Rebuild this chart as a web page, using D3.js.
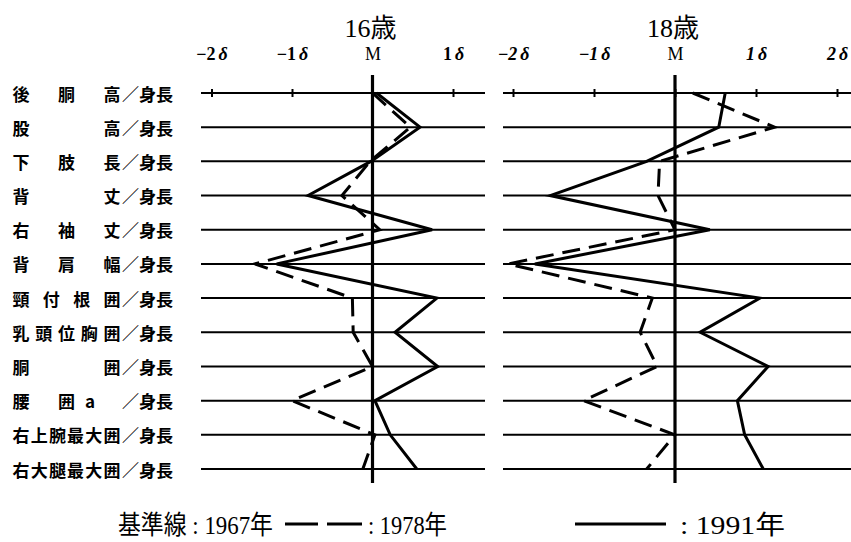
<!DOCTYPE html>
<html>
<head>
<meta charset="utf-8">
<script src="https://cdn.jsdelivr.net/npm/d3@7"></script>
<style>
  body { margin: 0; background: #fff; }
  svg { display: block; }
</style>
</head>
<body>
<div id="chart"></div>
<script>
// 体型指標の偏差（1967年基準, 単位: δ）
const measures = ["後胴高", "股高", "下肢長", "背丈", "右袖丈", "背肩幅",
                  "頸付根囲", "乳頭位胸囲", "胴囲", "腰囲a", "右上腕最大囲", "右大腿最大囲"];
const suffix = "／身長";

const ticks16 = [-2, -1, 0, 1];
const ticks18 = [-2, -1, 0, 1, 2];

const age16_1978 = [0.0, 0.47, -0.03, -0.38, 0.09, -1.46, -0.25, -0.24, 0.0, -1.0, 0.03, -0.12];
const age16_1991 = [0.05, 0.59, -0.02, -0.80, 0.74, -1.19, 0.80, 0.28, 0.81, 0.03, 0.22, 0.55];
const age18_1978 = [0.22, 1.23, -0.19, -0.21, 0.0, -2.06, -0.28, -0.43, -0.22, -1.13, 0.0, -0.35];
const age18_1991 = [0.62, 0.54, -0.35, -1.54, 0.43, -1.73, 1.05, 0.31, 1.15, 0.77, 0.86, 1.09];

const svg = d3.select("#chart").append("svg")
    .attr("width", 851)
    .attr("height", 542);

const y = d3.scalePoint().domain(measures).range([93, 469]);

const jp = "'Noto Sans CJK JP', sans-serif";
const serif = "'Liberation Serif', 'Noto Sans CJK JP', serif";

// row labels
const labels = svg.append("g");
measures.forEach(m => {
    const chars = Array.from(m);
    const n = chars.length;
    chars.forEach((c, i) => {
        let cx = n === 1 ? 21 : 21 + i * (91 / (n - 1));
        if (/[a-z]/.test(c)) cx = 90; // 半角文字
        labels.append("text")
            .attr("x", cx)
            .attr("y", y(m))
            .attr("text-anchor", "middle")
            .attr("dominant-baseline", "central")
            .style("font-family", jp)
            .style("font-size", "17px")
            .style("font-weight", 700)
            .text(c);
    });
    labels.append("text")
        .attr("x", 122)
        .attr("y", y(m))
        .attr("dominant-baseline", "central")
        .style("font-family", jp)
        .style("font-size", "17px")
        .style("font-weight", 700)
        .text(suffix);
});

function panel(opts) {
    const x = d3.scaleLinear().domain(opts.domain).range(opts.range);
    const g = svg.append("g");

    // title
    g.append("text")
        .attr("x", x(0) - 2)
        .attr("y", 37)
        .attr("text-anchor", "middle")
        .style("font-family", serif)
        .style("font-size", "26px")
        .text(opts.title);

    // row lines
    g.selectAll(".row")
        .data(measures)
        .enter().append("line")
        .attr("x1", opts.lineX[0])
        .attr("x2", opts.lineX[1])
        .attr("y1", d => y(d))
        .attr("y2", d => y(d))
        .attr("stroke", "#000")
        .attr("stroke-width", 2);

    // axis on the first row
    const axis = d3.axisTop(x)
        .tickValues(opts.ticks)
        .tickSize(4)
        .tickPadding(29)
        .tickFormat(d => d);
    const ag = g.append("g")
        .attr("transform", `translate(0,${y(measures[0])})`)
        .call(axis);
    ag.select(".domain").remove();
    ag.selectAll(".tick line")
        .attr("y1", 4).attr("y2", -4)
        .attr("stroke", "#000").attr("stroke-width", 2);
    ag.selectAll(".tick text")
        .attr("fill", "#000")
        .style("font-family", serif)
        .style("font-size", "18px")
        .style("font-weight", 700)
        .each(function(d) {
            const t = d3.select(this).text("");
            if (d === 0) {
                t.append("tspan").style("font-weight", 400).text("M");
                return;
            }
            const num = (d < 0 ? "−" : "") + Math.abs(d);
            t.append("tspan")
                .style("font-style", opts.italic ? "italic" : "normal")
                .text(num);
            t.append("tspan")
                .attr("dx", 3)
                .style("font-style", "italic")
                .text("δ");
        });

    // M line
    g.append("line")
        .attr("x1", x(0)).attr("x2", x(0))
        .attr("y1", 75).attr("y2", 483)
        .attr("stroke", "#000")
        .attr("stroke-width", 3.2);

    const line = d3.line()
        .x(d => x(d[1]))
        .y(d => y(d[0]));

    g.append("path")
        .datum(measures.map((m, i) => [m, opts.s1978[i]]))
        .attr("d", line)
        .attr("fill", "none")
        .attr("stroke", "#000")
        .attr("stroke-width", 3)
        .attr("stroke-dasharray", "18,9");

    g.append("path")
        .datum(measures.map((m, i) => [m, opts.s1991[i]]))
        .attr("d", line)
        .attr("fill", "none")
        .attr("stroke", "#000")
        .attr("stroke-width", 3);
}

panel({
    title: "16歳",
    domain: [-2, 1], range: [211.5, 453],
    ticks: ticks16, italic: false,
    lineX: [201, 485],
    s1978: age16_1978, s1991: age16_1991
});

panel({
    title: "18歳",
    domain: [-2, 2], range: [513, 837],
    ticks: ticks18, italic: true,
    lineX: [503, 851],
    s1978: age18_1978, s1991: age18_1991
});

// legend
const lg = svg.append("g").style("font-family", serif).style("font-size", "26px");
lg.append("text").attr("x", 118).attr("y", 534)
    .attr("textLength", 155).attr("lengthAdjust", "spacingAndGlyphs")
    .text("基準線 : 1967年");
lg.append("line").attr("x1", 285).attr("x2", 318).attr("y1", 524).attr("y2", 524)
    .attr("stroke", "#000").attr("stroke-width", 3);
lg.append("line").attr("x1", 327).attr("x2", 362).attr("y1", 524).attr("y2", 524)
    .attr("stroke", "#000").attr("stroke-width", 3);
lg.append("text").attr("x", 368).attr("y", 534)
    .attr("textLength", 79).attr("lengthAdjust", "spacingAndGlyphs")
    .text(": 1978年");
lg.append("line").attr("x1", 575).attr("x2", 666).attr("y1", 524).attr("y2", 524)
    .attr("stroke", "#000").attr("stroke-width", 3);
lg.append("text").attr("x", 680).attr("y", 534)
    .attr("textLength", 105).attr("lengthAdjust", "spacingAndGlyphs")
    .text(": 1991年");
</script>
</body>
</html>
